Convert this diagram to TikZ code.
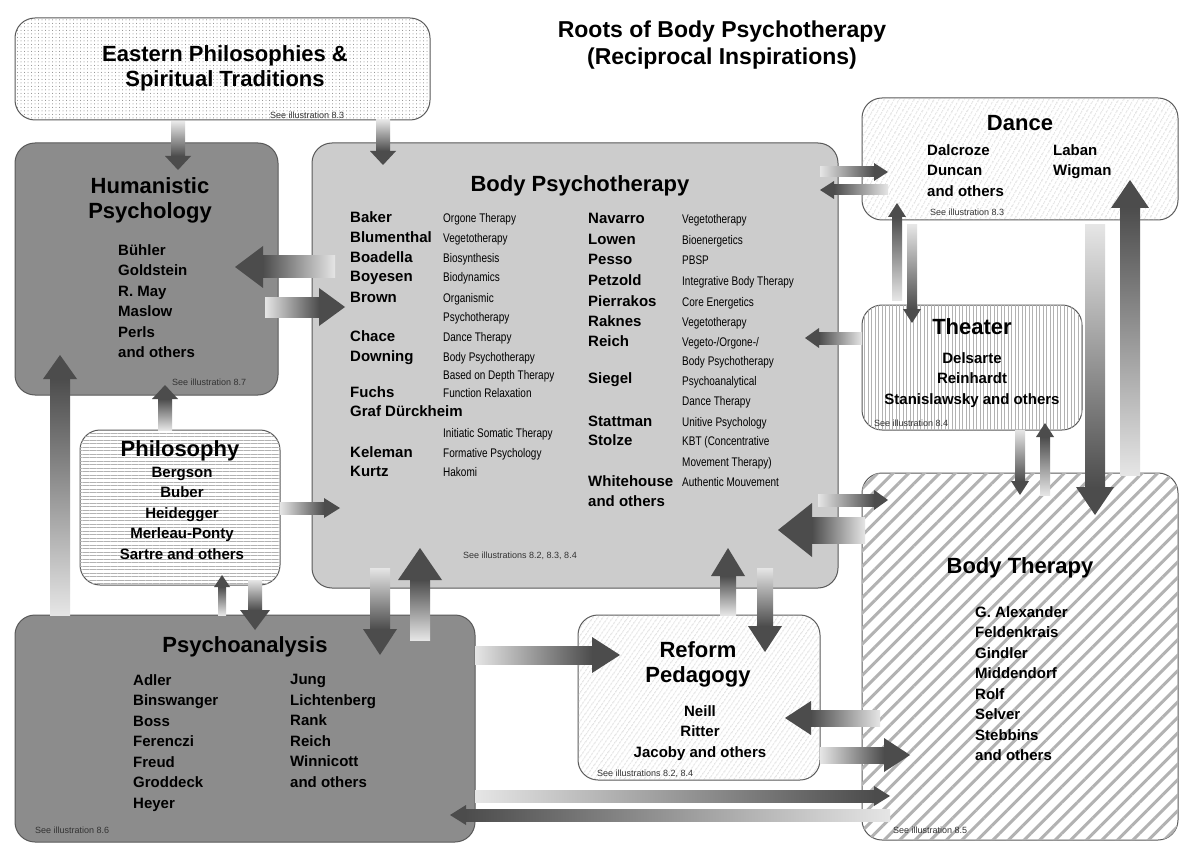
\documentclass[tikz,border=0pt]{standalone}
\usepackage{fontspec}
\setmainfont{Liberation Sans}
\newfontfamily\cond[FakeStretch=0.8]{Liberation Sans}
\usetikzlibrary{patterns.meta}
\definecolor{arL}{gray}{0.9}
\definecolor{arD}{gray}{0.3}
\definecolor{dk}{gray}{0.55}
\definecolor{lt}{gray}{0.8}
\definecolor{pt}{gray}{0.7}
\newcommand\AR[6]{\path[left color=arL,right color=arD] (#1,#3-#4) rectangle (#2-#6,#3+#4);\fill[arD] (#2-#6,#3-#5)--(#2,#3)--(#2-#6,#3+#5)--cycle;}
\newcommand\AL[6]{\path[left color=arD,right color=arL] (#2+#6,#3-#4) rectangle (#1,#3+#4);\fill[arD] (#2+#6,#3-#5)--(#2,#3)--(#2+#6,#3+#5)--cycle;}
\newcommand\AD[6]{\path[top color=arL,bottom color=arD] (#1-#4,#2) rectangle (#1+#4,#3-#6);\fill[arD] (#1-#5,#3-#6)--(#1,#3)--(#1+#5,#3-#6)--cycle;}
\newcommand\AU[6]{\path[top color=arD,bottom color=arL] (#1-#4,#3+#6) rectangle (#1+#4,#2);\fill[arD] (#1-#5,#3+#6)--(#1,#3)--(#1+#5,#3+#6)--cycle;}
\tikzset{
 box/.style={draw=gray!70!black,line width=1pt,rounded corners=20pt},
 ttl/.style={font=\bfseries\fontsize{22}{25}\selectfont,align=center},
 nm/.style={font=\bfseries\fontsize{15}{20.5}\selectfont,align=left,anchor=north west,inner sep=0},
 nmc/.style={font=\bfseries\fontsize{15}{20.5}\selectfont,align=center,inner sep=0},
 bn/.style={font=\bfseries\fontsize{15}{15}\selectfont,anchor=base west,inner sep=0},
 ds/.style={font=\cond\fontsize{12.5}{12.5}\selectfont,anchor=base west,inner sep=0},
 see/.style={font=\fontsize{9}{9}\selectfont,anchor=base west,inner sep=0,text=black!80},
}
\begin{document}
\begin{tikzpicture}[x=1pt,y=-1pt]
\useasboundingbox (0,0) rectangle (1200,853);
\fill[white] (0,0) rectangle (1200,853);
% boxes
\path[box,fill=white,postaction={pattern={Dots[radius=0.5pt,distance=3.5pt]},pattern color=gray}] (15,18) rectangle (430,120);
\path[box,fill=dk] (15,143) rectangle (278,395);
\path[box,fill=lt] (312,143) rectangle (838,588);
\path[box,fill=white,postaction={pattern={Lines[angle=60,distance=4pt,line width=0.5pt]},pattern color=pt}] (862,98) rectangle (1178,220);
\path[box,fill=white,postaction={pattern={Lines[angle=90,distance=3.5pt,line width=0.8pt]},pattern color=pt}] (862,305) rectangle (1082,430);
\path[box,fill=white,postaction={pattern={Lines[angle=0,distance=3.5pt,line width=0.8pt]},pattern color=pt}] (80,430) rectangle (280,585);
\path[box,fill=white,postaction={pattern={Lines[angle=45,distance=11pt,line width=3pt]},pattern color=pt}] (862,473) rectangle (1178,840);
\path[box,fill=dk] (15,615) rectangle (475,842);
\path[box,fill=white,postaction={pattern={Lines[angle=55,distance=4pt,line width=0.5pt]},pattern color=pt}] (578,615) rectangle (820,780);
% titles
\node[ttl,font=\bfseries\fontsize{23}{27}\selectfont] (title) at (722,45) {Roots of Body Psychotherapy\\(Reciprocal Inspirations)};
\node[ttl] (east) at (225,68) {Eastern Philosophies \&\\Spiritual Traditions};
\node[see] (easts) at (270,119) {See illustration 8.3};
\node[ttl] (hum) at (150,200) {Humanistic\\Psychology};
\node[nm] (humn) at (118,244) {Bühler\\Goldstein\\R. May\\Maslow\\Perls\\and others};
\node[see] (hums) at (172,385) {See illustration 8.7};
\node[ttl] (bp) at (580,186) {Body Psychotherapy};
\node[see] (bps) at (463,558) {See illustrations 8.2, 8.3, 8.4};
\node[ttl] (dance) at (1020,123) {Dance};
\node[nm] (dn1) at (927,144) {Dalcroze\\Duncan\\and others};
\node[nm] (dn2) at (1053,144) {Laban\\Wigman};
\node[see] (dans) at (930,216) {See illustration 8.3};
\node[ttl] (th) at (972,327) {Theater};
\node[nmc] (thn) at (972,380) {Delsarte\\Reinhardt\\Stanislawsky and others};
\node[see] (ths) at (874,426) {See illustration 8.4};
\node[ttl] (ph) at (180,451) {Philosophy};
\node[nmc] (phn) at (182,513) {Bergson\\Buber\\Heidegger\\Merleau-Ponty\\Sartre and others};
\node[ttl] (bt) at (1020,568) {Body Therapy};
\node[nm] (btn) at (975,606) {G. Alexander\\Feldenkrais\\Gindler\\Middendorf\\Rolf\\Selver\\Stebbins\\and others};
\node[see] (bts) at (893,833) {See illustration 8.5};
\node[ttl] (pa) at (245,647) {Psychoanalysis};
\node[nm] (pa1) at (133,674) {Adler\\Binswanger\\Boss\\Ferenczi\\Freud\\Groddeck\\Heyer};
\node[nm] (pa2) at (290,674) {Jung\\Lichtenberg\\Rank\\Reich\\Winnicott\\and others};
\node[see] (pas) at (35,833) {See illustration 8.6};
\node[ttl] (rp) at (698,664) {Reform\\Pedagogy};
\node[nmc] (rpn) at (700,733) {Neill\\Ritter\\Jacoby and others};
\node[see] (rps) at (597,776) {See illustrations 8.2, 8.4};
% body psychotherapy lists
\foreach \y/\n in {223/Baker,243/Blumenthal,263/Boadella,282/Boyesen,302/Brown,341/Chace,361/Downing,397/Fuchs,416/Graf Dürckheim,457/Keleman,476/Kurtz}
  \node[bn] at (350,\y) {\n};
\foreach \y/\d in {223/Orgone Therapy,243/Vegetotherapy,263/Biosynthesis,282/Biodynamics,302/Organismic,321/Psychotherapy,341/Dance Therapy,361/Body Psychotherapy,379/Based on Depth Therapy,397/Function Relaxation,437/Initiatic Somatic Therapy,457/Formative Psychology,476/Hakomi}
  \node[ds] at (443,\y) {\d};
\foreach \y/\n in {224/Navarro,245/Lowen,265/Pesso,286/Petzold,306/Pierrakos,326/Raknes,346/Reich,383/Siegel,426/Stattman,445/Stolze,486/Whitehouse,506/and others}
  \node[bn] at (588,\y) {\n};
\foreach \y/\d in {224/Vegetotherapy,245/Bioenergetics,265/PBSP,286/Integrative Body Therapy,306/Core Energetics,326/Vegetotherapy,346/{Vegeto-/Orgone-/},365/Body Psychotherapy,385/Psychoanalytical,405/Dance Therapy,426/Unitive Psychology,445/KBT (Concentrative,466/Movement Therapy),486/Authentic Mouvement}
  \node[ds] at (682,\y) {\d};
% arrows
\AD{178}{122}{170}{7}{13}{14}
\AD{383}{120}{165}{7}{13}{14}
\AL{335}{235}{267}{11}{21}{28}
\AR{265}{345}{307}{10}{19}{26}
\AR{820}{888}{172}{5}{9}{14}
\AL{888}{820}{190}{5}{9}{14}
\AU{897}{300}{203}{5}{9}{14}
\AD{912}{225}{323}{5}{9}{14}
\AL{862}{805}{338}{6}{10}{14}
\AD{1095}{225}{515}{10}{19}{28}
\AU{1130}{475}{180}{10}{19}{28}
\AD{1020}{430}{495}{5}{9}{14}
\AU{1045}{495}{423}{5}{9}{14}
\AR{818}{888}{500}{6}{10}{14}
\AL{865}{778}{530}{13}{27}{34}
\AR{280}{340}{508}{6}{10}{16}
\AU{165}{430}{385}{7}{13}{14}
\AU{60}{615}{355}{10}{17}{24}
\AU{222}{615}{575}{4}{8}{12}
\AD{255}{580}{630}{7}{15}{20}
\AD{380}{568}{655}{10}{17}{26}
\AU{420}{640}{548}{10}{22}{32}
\AR{475}{620}{655}{9}{18}{28}
\AU{728}{615}{548}{8}{17}{28}
\AD{765}{568}{652}{8}{17}{26}
\AL{880}{785}{718}{8}{17}{26}
\AR{820}{910}{755}{8}{17}{26}
\AR{475}{890}{796}{6}{10}{16}
\AL{890}{450}{815}{6}{10}{16}
\end{tikzpicture}
\end{document}
